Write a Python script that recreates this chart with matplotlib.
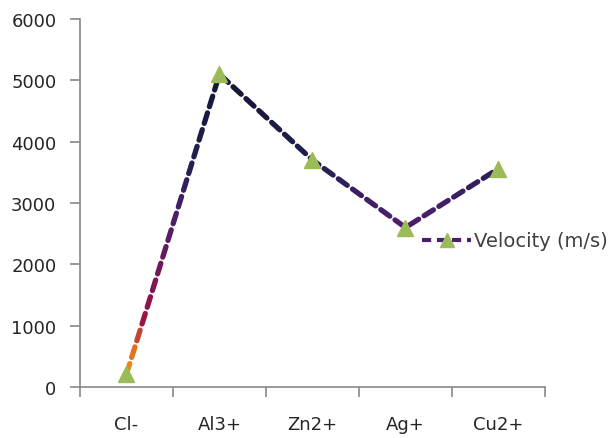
import numpy as np
from matplotlib import pyplot as plt
from matplotlib.collections import LineCollection
from matplotlib.colors import LinearSegmentedColormap
from matplotlib.lines import Line2D

plt.rcParams['font.family'] = ['DejaVu Sans']

# dados
ions = ['Cl-', 'Al3+', 'Zn2+', 'Ag+', 'Cu2+']
velocity = [210, 5100, 3700, 2600, 3560]
label = 'Velocity (m/s)'

fig = plt.figure(figsize=(6.13, 4.39), dpi=100)
ax = fig.add_axes([0.1305, 0.1162, 0.7585, 0.8382])

x = np.arange(len(ions))
ax.set_xlim(-0.5, len(ions) - 0.5)
ax.set_ylim(0, 6000)

# linha tracejada com gradiente vertical (laranja -> vinho -> roxo -> azul escuro)
cmap = LinearSegmentedColormap.from_list('grad', [
    (0.0, '#f7961e'), (0.12, '#e0701e'), (0.22, '#9a1048'),
    (0.40, '#6a1a5a'), (0.55, '#4a1f6b'), (0.72, '#22204f'), (1.0, '#141634')])
fig.canvas.draw()
pts = ax.transData.transform(np.column_stack([x, velocity]))
inv = ax.transData.inverted()
dash, gap = 11.0, 6.5
segs, cols = [], []
pos = 0.0
for (p0, p1) in zip(pts[:-1], pts[1:]):
    d = p1 - p0
    L = np.hypot(*d)
    u = d / L
    t = 0.0
    while t < L:
        period = dash + gap
        phase = pos % period
        if phase < dash:
            step = min(dash - phase, L - t)
            a = p0 + u * t
            b = p0 + u * (t + step)
            da, db = inv.transform([a, b])
            segs.append([da, db])
            cols.append(cmap(np.clip((da[1] + db[1]) / 2 / 5100, 0, 1)))
        else:
            step = min(period - phase, L - t)
        t += step
        pos += step
lc = LineCollection(segs, colors=cols, linewidths=3.8, capstyle='round', zorder=2)
ax.add_collection(lc)

ax.plot(x, velocity, linestyle='none', marker='^', markersize=11,
        color='#9bbb59', zorder=3)

# eixos
for s in ['top', 'right']:
    ax.spines[s].set_visible(False)
for s in ['left', 'bottom']:
    ax.spines[s].set_color('#888888')
    ax.spines[s].set_linewidth(1.2)
ax.set_yticks(range(0, 6001, 1000))
ax.set_xticks(x)
ax.set_xticklabels(ions)
ax.set_xticks(np.arange(-0.5, len(ions), 1), minor=True)
ax.tick_params(axis='x', which='major', length=0, pad=20, labelsize=13, labelcolor='#262626')
ax.tick_params(axis='x', which='minor', length=7, width=1.2, color='#888888')
ax.tick_params(axis='y', length=7, width=1.2, color='#888888', pad=10, labelsize=13, labelcolor='#262626')

handle = Line2D([], [], color='#4a1f6b', linestyle=(0, (2.2, 1.4)), linewidth=3, marker='^',
                markersize=10, markerfacecolor='#9bbb59', markeredgecolor='#9bbb59')
fig.legend([handle], [label], loc='center left', bbox_to_anchor=(0.688, 0.449),
           frameon=False, fontsize=14, handlelength=2.55, handletextpad=0.15,
           labelcolor='#404040', borderpad=0, borderaxespad=0)

plt.savefig('out.png', dpi=100)
